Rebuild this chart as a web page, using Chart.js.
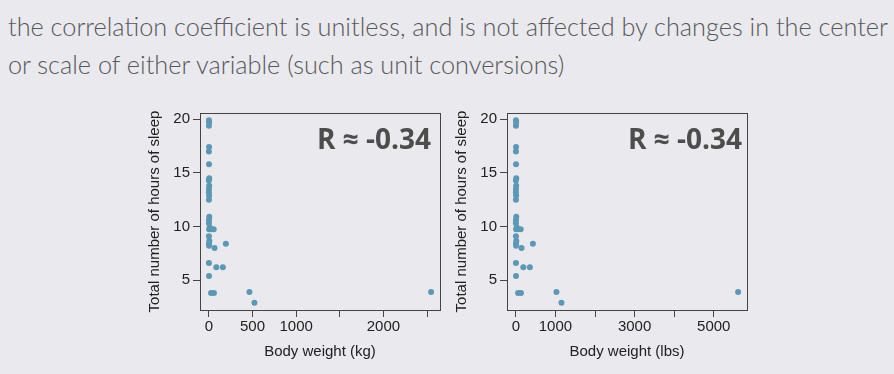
<!DOCTYPE html>
<html>
<head>
<meta charset="utf-8">
<script src="https://cdn.jsdelivr.net/npm/chart.js@4.4.1/dist/chart.umd.min.js"></script>
<style>
  body { margin: 0; width: 894px; height: 374px; overflow: hidden; position: relative;
         background: #e9e9ee; font-family: Lato, "Open Sans", sans-serif; }
  #title { position: absolute; left: 8px; top: 7px; font-size: 25px; font-weight: 300;
           color: #58585a; line-height: 38px; white-space: nowrap; transform-origin: 0 0; }
  .panel { position: absolute; top: 95px; width: 306px; height: 279px; }
</style>
</head>
<body>
<div id="title">
  <div id="line1">the correlation coefficient is unitless, and is not affected by changes in the center</div>
  <div>or scale of either variable (such as unit conversions)</div>
</div>
<canvas id="kg" class="panel" width="306" height="279" style="left:138px"></canvas>
<canvas id="lbs" class="panel" width="306" height="279" style="left:445px"></canvas>
<script>
// hours of sleep per mammal
const sleepHours = [19.9, 19.7, 19.4, 17.4, 17.0, 15.8, 14.5, 14.3, 13.8, 13.5, 13.2, 12.9, 12.5,
  10.9, 10.6, 10.3, 9.9, 9.75, 9.75, 9.75, 9.1, 8.65, 8.4, 8.2, 8.0, 8.4, 6.6, 6.2, 6.2, 5.4,
  3.8, 3.8, 3.9, 2.9, 3.9];
// body weight in kg
const weightKg = [1, 3, 0.5, 2, 0.2, 1.5, 4, 0.3, 3.5, 1, 0.1, 2.5, 0.8,
  4.5, 1, 0.6, 10, 3, 55, 25, 0.9, 5, 1.2, 2, 65, 195, 0.4, 85, 160, 1.7,
  25, 58, 465, 522, 2547];
// same animals, body weight in lbs
const weightLbs = [2.2, 6.6, 1.1, 4.4, 0.4, 3.3, 8.8, 0.7, 7.7, 2.2, 0.2, 5.5, 1.8,
  9.9, 2.2, 1.3, 22, 6.6, 121, 55, 2, 11, 2.6, 4.4, 143, 430, 0.9, 187, 353, 3.7,
  55, 128, 1025, 1151, 5615];

const sleepTicks = [5, 10, 15, 20];
const kgTicks = [0, 500, 1000, 1500, 2000, 2500];
const kgTickLabels = ['0', '500', '1000', '', '2000', ''];
const lbsTicks = [0, 1000, 2000, 3000, 4000, 5000];
const lbsTickLabels = ['0', '1000', '', '3000', '', '5000'];
const rLabel = 'R \u2248 -0.34';

const axisFont = { family: '"Liberation Sans", Arial, sans-serif', size: 15 };
const inkColor = '#222';
const dotColor = '#5b98b5';

// R style range: data range stretched by 4% on each side
function padRange(vals) {
  const lo = Math.min(...vals), hi = Math.max(...vals);
  const p = (hi - lo) * 0.04;
  return [lo - p, hi + p];
}

const boxPlugin = {
  id: 'box',
  afterDraw(chart) {
    const { ctx, chartArea: a } = chart;
    ctx.save();
    ctx.strokeStyle = '#444';
    ctx.lineWidth = 1;
    ctx.strokeRect(Math.round(a.left) + 0.5, Math.round(a.top) + 0.5,
      Math.round(a.right - a.left), Math.round(a.bottom - a.top));
    ctx.font = 'bold 28px "Open Sans", sans-serif';
    ctx.fillStyle = '#4d4d4d';
    ctx.textAlign = 'right';
    ctx.textBaseline = 'alphabetic';
    ctx.fillText(chart.options.plugins.box.text, a.right - chart.options.plugins.box.inset, a.top + 36);
    ctx.restore();
  }
};

function makeChart(id, weights, xTicks, xLabels, xTitle, inset) {
  const [xMin, xMax] = padRange(weights);
  const [yMin, yMax] = padRange(sleepHours);
  const points = weights.map((w, i) => ({ x: w, y: sleepHours[i] }));
  return new Chart(document.getElementById(id), {
    type: 'scatter',
    data: {
      datasets: [{
        data: points,
        backgroundColor: dotColor,
        borderWidth: 0,
        pointRadius: 3
      }]
    },
    options: {
      responsive: false,
      animation: false,
      layout: { padding: { top: 18, right: 4, left: 0, bottom: 0 } },
      plugins: {
        legend: { display: false },
        tooltip: { enabled: false },
        box: { text: rLabel, inset: inset }
      },
      scales: {
        x: {
          type: 'linear', min: xMin, max: xMax,
          afterBuildTicks: s => { s.ticks = xTicks.map(v => ({ value: v })); },
          afterFit: s => { s.height = 64; },
          border: { display: false },
          grid: { drawOnChartArea: false, tickLength: 7, color: '#444' },
          ticks: { padding: 1, color: inkColor, font: axisFont, maxRotation: 0, autoSkip: false,
                   callback: (v, i) => xLabels[i] },
          title: { display: true, text: xTitle, color: inkColor, font: axisFont,
                   padding: { top: 0, bottom: 13 } }
        },
        y: {
          type: 'linear', min: yMin, max: yMax,
          afterBuildTicks: s => { s.ticks = sleepTicks.map(v => ({ value: v })); },
          afterFit: s => { s.width = 62; },
          border: { display: false },
          grid: { drawOnChartArea: false, tickLength: 7, color: '#444' },
          ticks: { padding: 3, color: inkColor, font: axisFont, autoSkip: false,
                   callback: v => String(v) },
          title: { display: true, text: 'Total number of hours of sleep', color: inkColor,
                   font: axisFont, padding: { top: 8, bottom: 0 } }
        }
      }
    },
    plugins: [boxPlugin]
  });
}

makeChart('kg', weightKg, kgTicks, kgTickLabels, 'Body weight (kg)', 9);
makeChart('lbs', weightLbs, lbsTicks, lbsTickLabels, 'Body weight (lbs)', 5);

// squeeze the slide text so the first line spans the same width as in the slide
const line1 = document.getElementById('line1');
const w = line1.scrollWidth;
if (w > 0) document.getElementById('title').style.transform = 'scaleX(' + (880 / w) + ')';
</script>
</body>
</html>
